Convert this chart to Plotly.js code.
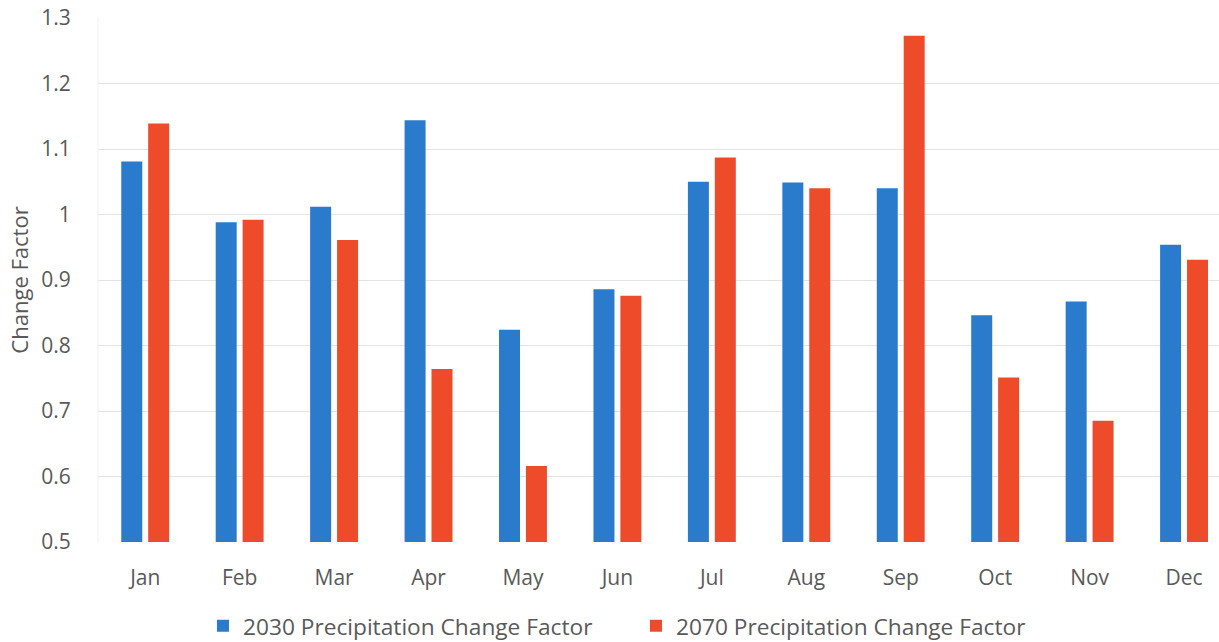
<!DOCTYPE html>
<html>
<head>
<meta charset="utf-8">
<script src="https://cdn.plot.ly/plotly-3.0.1.min.js"></script>
<style>html,body{margin:0;padding:0;background:#fff;}#chart{width:1219px;height:642px;}</style>
</head>
<body>
<div id="chart"></div>
<script>
const months = ["Jan","Feb","Mar","Apr","May","Jun","Jul","Aug","Sep","Oct","Nov","Dec"];
const factor2030 = [1.081, 0.988, 1.012, 1.144, 0.824, 0.886, 1.050, 1.049, 1.040, 0.846, 0.867, 0.954];
const factor2070 = [1.139, 0.992, 0.961, 0.764, 0.616, 0.876, 1.087, 1.040, 1.273, 0.751, 0.685, 0.931];
const seriesNames = ["2030 Precipitation Change Factor", "2070 Precipitation Change Factor"];
const yTicks = [0.5, 0.6, 0.7, 0.8, 0.9, 1, 1.1, 1.2, 1.3];
const yTickText = ["0.5","0.6","0.7","0.8","0.9","1","1.1","1.2","1.3"];

const font = "Open Sans, DejaVu Sans, sans-serif";
const data = [
  {type:"bar", x:months, y:factor2030, name:seriesNames[0], marker:{color:"#2B7BCD"}},
  {type:"bar", x:months, y:factor2070, name:seriesNames[1], marker:{color:"#EE4B2B"}}
];
const layout = {
  width:1219, height:642,
  margin:{l:98, r:0, t:18, b:100, autoexpand:false},
  paper_bgcolor:"#fff", plot_bgcolor:"#fff",
  barmode:"group", bargap:0.43, bargroupgap:0.22,
  font:{family:font, color:"#595959", size:21},
  xaxis:{
    range:[-0.5, 11.37], showgrid:false, zeroline:false, showline:false,
    ticks:"outside", ticklen:17, tickcolor:"rgba(0,0,0,0)", automargin:false,
    tickfont:{size:21, color:"#595959"}, fixedrange:true
  },
  yaxis:{
    range:[0.5, 1.3], tickvals:yTicks, ticktext:yTickText, automargin:false,
    showgrid:true, gridcolor:"#e4e4e4", gridwidth:1, zeroline:false, showline:false,
    ticks:"outside", ticklen:22, tickcolor:"rgba(0,0,0,0)",
    tickfont:{size:21, color:"#595959"},
    title:{text:"Change Factor", font:{size:22, color:"#595959"}, standoff:6}
  },
  showlegend:true,
  legend:{orientation:"h", xref:"container", yref:"container", x:0.1665, xanchor:"left", y:0.025, yanchor:"middle",
    font:{size:22.7, color:"#595959"}, itemwidth:30, tracegroupgap:0, traceorder:"normal",
    entrywidth:388, entrywidthmode:"pixels"},
  shapes:[{type:"line", xref:"paper", yref:"paper", x0:0, x1:0, y0:0, y1:1, line:{color:"#f0f0f0", width:1}}]
};
Plotly.newPlot("chart", data, layout, {displayModeBar:false, staticPlot:true});
</script>
</body>
</html>
